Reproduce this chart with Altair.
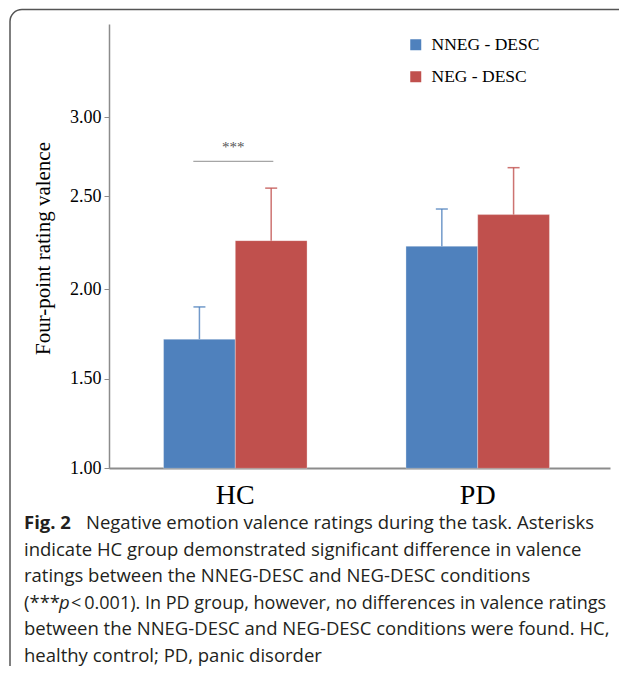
import altair as alt
import pandas as pd

# ---- data ----
groups = ["HC", "HC", "PD", "PD"]
conditions = ["NNEG - DESC", "NEG - DESC", "NNEG - DESC", "NEG - DESC"]
means = [1.72, 2.26, 2.23, 2.40]
errors = [0.18, 0.29, 0.20, 0.28]

cond_order = ["NNEG - DESC", "NEG - DESC"]
cond_colors = ["#4f81bd", "#c0504d"]
group_order = ["HC", "PD"]

y_ticks = [1.0, 1.5, 2.0, 2.5, 3.0]
y_title = "Four-point rating valence"

sig_group = ["HC"]
sig_value = [2.72]
sig_text_value = [2.81]
sig_text = ["***"]

caption_bold = "Fig. 2"
caption_first = "Negative emotion valence ratings during the task. Asterisks"
caption_block_a = [
    "indicate HC group demonstrated significant difference in valence",
    "ratings between the NNEG-DESC and NEG-DESC conditions",
]
caption_l4_a = "(***"
caption_l4_p = "p"
caption_l4_b = "\u2009<\u20090.001). In PD group, however, no differences in valence ratings"
caption_block_b = [
    "between the NNEG-DESC and NEG-DESC conditions were found. HC,",
    "healthy control; PD, panic disorder",
]

df = pd.DataFrame({"group": groups, "cond": conditions, "mean": means, "err": errors})
sig_df = pd.DataFrame({"group": sig_group, "v": sig_value, "tv": sig_text_value, "t": sig_text})
one = pd.DataFrame({"k": [0]})

W, H = 501, 444
OX, OY = 109, 24  # page position of plot origin (used for decoration/caption placement)
SERIF = "Liberation Serif"
SANS = "Open Sans"
CAP_SIZE = 18.5
CAP_COLOR = "#231f20"
LH = 26.5

x_enc = alt.X(
    "group:N",
    sort=group_order,
    scale=alt.Scale(paddingInner=0.408, paddingOuter=0.2374, align=0.474),
    axis=alt.Axis(
        title=None, labelAngle=0, ticks=False, tickSize=0, grid=False,
        domainColor="#8c8c8c", domainWidth=2,
        labelFont=SERIF, labelFontSize=28, labelColor="black",
        labelPadding=35, labelBaseline="alphabetic",
    ),
)
xo_enc = alt.XOffset("cond:N", sort=cond_order, scale=alt.Scale(paddingInner=0, paddingOuter=0))
y_scale = alt.Scale(domain=[1.0, 2.0, 2.5, 3.0, 3.5], range=[444.3, 265, 172, 93.3, 0], nice=False, zero=False)
color_enc = alt.Color(
    "cond:N",
    sort=cond_order,
    scale=alt.Scale(domain=cond_order, range=cond_colors),
    legend=alt.Legend(
        orient="none", legendX=298, legendY=12, title=None, padding=0,
        symbolType="square", symbolSize=121, symbolStrokeWidth=0, symbolOpacity=1,
        labelFont=SERIF, labelFontSize=17.5, labelColor="black",
        rowPadding=13, labelOffset=7,
    ),
)

base = alt.Chart(df)

bars = base.mark_bar(stroke="white", strokeOpacity=0.3, strokeWidth=1).encode(
    x=x_enc,
    xOffset=xo_enc,
    y=alt.Y(
        "mean:Q",
        scale=y_scale,
        axis=alt.Axis(
            values=y_ticks, format=".2f", grid=False,
            domainColor="#8c8c8c", domainWidth=1.5,
            tickColor="#8c8c8c", tickSize=5,
            labelFont=SERIF, labelFontSize=18, labelColor="black", labelPadding=3,
            title=y_title, titleFont=SERIF, titleFontSize=21, titleFontWeight="normal",
            titleColor="black", titleX=-66, titleY=224, titleAlign="center",
            titleBaseline="middle",
        ),
    ),
    y2=alt.datum(1.0),
    color=color_enc,
)

err_rule = base.transform_calculate(upper="datum.mean + datum.err").mark_rule(
    strokeWidth=1.5, opacity=0.8
).encode(
    x=x_enc, xOffset=xo_enc, y=alt.Y("mean:Q", scale=y_scale), y2="upper:Q", color=color_enc
)

err_cap = base.transform_calculate(upper="datum.mean + datum.err").mark_tick(
    orient="horizontal", size=12, thickness=1.5, opacity=0.8
).encode(
    x=x_enc, xOffset=xo_enc, y=alt.Y("upper:Q", scale=y_scale), color=color_enc
)

sig_line = alt.Chart(sig_df).mark_tick(
    orient="horizontal", size=80, thickness=1.3, color="#808080", xOffset=-2
).encode(x=x_enc, y=alt.Y("v:Q", scale=y_scale))

sig_star = alt.Chart(sig_df).mark_text(
    font=SERIF, fontSize=15, color="#555555", dx=-2, baseline="middle"
).encode(x=x_enc, y=alt.Y("tv:Q", scale=y_scale), text="t:N")

frame = alt.Chart(one).mark_rect(
    fillOpacity=0, stroke="#555555", strokeWidth=1.5, cornerRadius=12
).encode(x=alt.value(10 - OX), x2=alt.value(700), y=alt.value(9.5 - OY), y2=alt.value(700))


def cap_text(text, x, y, size=CAP_SIZE, **kw):
    return alt.Chart(one).mark_text(
        text=text, font=SANS, fontSize=size, align="left",
        baseline="alphabetic", color=CAP_COLOR, **kw
    ).encode(x=alt.value(x - OX), y=alt.value(y - OY))


Y1 = 529
cap_bold = cap_text(caption_bold, 24, Y1, fontWeight="bold")
cap_first = cap_text(caption_first, 86, Y1)
cap_block_a = cap_text(caption_block_a, 24, Y1 + LH, lineHeight=LH)
cap_l4a = cap_text(caption_l4_a, 24, Y1 + 3 * LH)
cap_l4p = cap_text(caption_l4_p, 59, Y1 + 3 * LH, fontStyle="italic")
cap_l4b = cap_text(caption_l4_b, 71, Y1 + 3 * LH, size=18)
cap_block_b = cap_text(caption_block_b, 24, Y1 + 4 * LH, lineHeight=LH)

chart = alt.layer(
    frame, bars, err_rule, err_cap, sig_line, sig_star,
    cap_bold, cap_first, cap_block_a, cap_l4a, cap_l4p, cap_l4b, cap_block_b
).properties(
    width=W, height=H,
    padding={"left": 101, "top": 16, "right": 9, "bottom": 198},
    autosize=alt.AutoSizeParams(type="none"),
).configure_view(strokeWidth=0)

chart.save("out.html", embed_options={"renderer": "svg", "actions": False})
